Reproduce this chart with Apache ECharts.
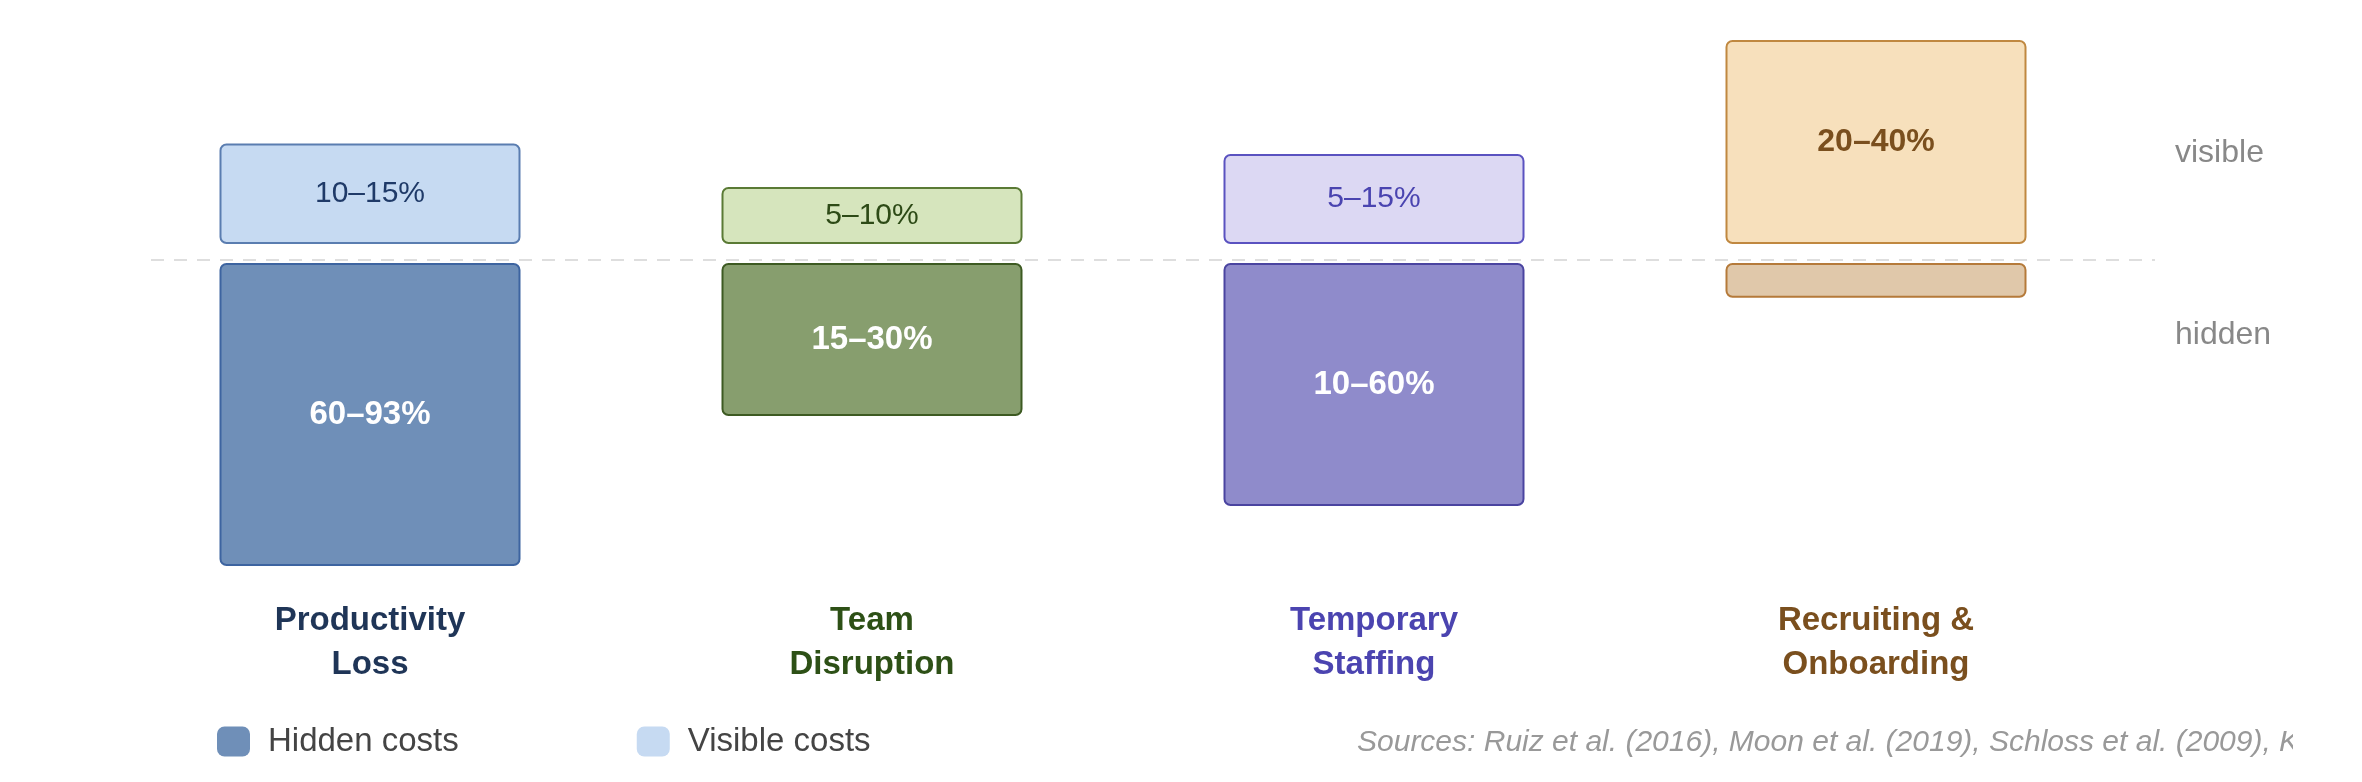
<!DOCTYPE html>
<html>
<head>
<meta charset="utf-8">
<style>html,body{margin:0;padding:0;background:#fff;}#c{width:2362px;height:782px;}</style>
<script src="https://cdn.jsdelivr.net/npm/echarts@6/dist/echarts.min.js"></script>
</head>
<body>
<div id="c"></div>
<script>
// ---- data ----
var categories = ['Productivity\nLoss', 'Team\nDisruption', 'Temporary\nStaffing', 'Recruiting &\nOnboarding'];
var visibleSize = [33.5, 19, 30, 68];     // relative bar size above the line
var hiddenSize = [101, 51, 81, 11.6];     // relative bar size below the line
var visibleLabels = ['10–15%', '5–10%', '5–15%', '20–40%'];
var hiddenLabels = ['60–93%', '15–30%', '10–60%', ''];
var sourceText = 'Sources: Ruiz et al. (2016), Moon et al. (2019), Schloss et al. (2009), Kurnat-Thoma et al. (2017)';

// ---- styles ----
var FONT = '"Liberation Sans", Arial, Helvetica, sans-serif';
var catColor = ['#1f3557', '#2d5016', '#4b44b0', '#7a4f1e'];
var hidFill = ['#6f8fb8', '#879e6e', '#8f8bcb', '#e0c8aa'];
var hidBorder = ['#3d64a0', '#3d5a22', '#4a44a0', '#b57a3a'];
var visFill = ['#c6daf2', '#d6e5bd', '#dcd8f3', '#f7e0bc'];
var visBorder = ['#5a7db0', '#5a7a35', '#5a52c0', '#c08840'];
var visLabelColor = ['#1f3a68', '#2d4a16', '#4a44b0', '#7a4f1e'];
var GAP_TOP = 5.33, GAP_BOTTOM = 1;

var chart = echarts.init(document.getElementById('c'));

var visData = visibleSize.map(function (v, i) {
  return {
    value: v,
    itemStyle: { color: visFill[i], borderColor: visBorder[i] },
    label: { formatter: visibleLabels[i], color: visLabelColor[i],
      fontWeight: i === 3 ? 'bold' : 'normal', fontSize: i === 3 ? 32 : 30 }
  };
});
var hidData = hiddenSize.map(function (v, i) {
  return {
    value: -v,
    itemStyle: { color: hidFill[i], borderColor: hidBorder[i] },
    label: { formatter: hiddenLabels[i] }
  };
});

chart.setOption({
  animation: false,
  textStyle: { fontFamily: FONT },
  grid: { left: 119, right: 235, top: 20, bottom: 192 },
  xAxis: {
    type: 'category',
    data: categories,
    axisLine: { show: false },
    axisTick: { show: false },
    axisLabel: {
      margin: 9,
      fontSize: 33,
      fontWeight: 'bold',
      lineHeight: 44,
      fontFamily: FONT,
      color: function (val, idx) { return catColor[idx]; }
    }
  },
  yAxis: { type: 'value', min: -110, max: 80, show: false, splitLine: { show: false } },
  legend: {
    data: ['Hidden costs', 'Visible costs'],
    left: 217, top: 725, padding: 0,
    icon: 'roundRect',
    itemWidth: 33, itemHeight: 30, itemGap: 178,
    itemStyle: { borderWidth: 0 },
    textStyle: { fontSize: 33, color: '#444', fontFamily: FONT, padding: [0, 0, 0, 13] }
  },
  series: [
    { name: 'gapTop', type: 'bar', stack: 'all', barWidth: 301, silent: true,
      itemStyle: { color: 'transparent' }, data: visibleSize.map(function () { return GAP_TOP; }) },
    { name: 'Visible costs', type: 'bar', stack: 'all', barWidth: 301,
      itemStyle: { color: '#c6daf2', borderWidth: 2, borderRadius: 6 },
      label: { show: true, position: 'inside', fontFamily: FONT },
      data: visData },
    { name: 'gapBottom', type: 'bar', stack: 'all', barWidth: 301, silent: true,
      itemStyle: { color: 'transparent' }, data: hiddenSize.map(function () { return -GAP_BOTTOM; }) },
    { name: 'Hidden costs', type: 'bar', stack: 'all', barWidth: 301,
      itemStyle: { color: '#6f8fb8', borderWidth: 2, borderRadius: 6 },
      label: { show: true, position: 'inside', color: '#fff', fontWeight: 'bold', fontSize: 33, fontFamily: FONT },
      data: hidData }
  ]
});

var y0 = chart.convertToPixel({ yAxisIndex: 0 }, 0);
var yVis = chart.convertToPixel({ yAxisIndex: 0 }, 35.7);
var yHid = chart.convertToPixel({ yAxisIndex: 0 }, -25.2);
chart.setOption({
  graphic: [
    { type: 'line', shape: { x1: 151, y1: y0, x2: 2155, y2: y0 }, silent: true,
      style: { stroke: '#dedede', lineWidth: 2, lineDash: [13, 10] } },
    { type: 'text', x: 2175, y: yVis,
      style: { text: 'visible', fill: '#888', font: '32px ' + FONT, textVerticalAlign: 'middle' } },
    { type: 'text', x: 2175, y: yHid,
      style: { text: 'hidden', fill: '#888', font: '32px ' + FONT, textVerticalAlign: 'middle' } },
    { type: 'text', x: 1357, y: 743, z: 10,
      style: { text: sourceText, fill: '#999', font: 'italic 30px ' + FONT, textVerticalAlign: 'middle' } },
    { type: 'rect', shape: { x: 2293, y: 700, width: 80, height: 80 }, z: 20, silent: true,
      style: { fill: '#fff' } }
  ]
});
</script>
</body>
</html>
